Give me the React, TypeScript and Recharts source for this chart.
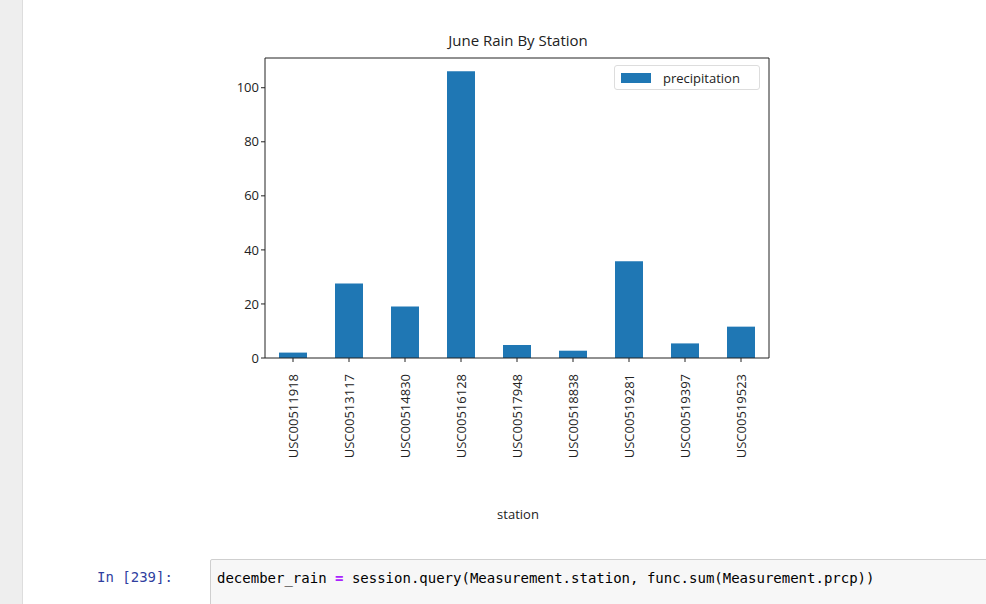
import React from "react";
import { BarChart, Bar, XAxis, YAxis, Legend } from "recharts";

const stations = ["USC00511918","USC00513117","USC00514830","USC00516128","USC00517948","USC00518838","USC00519281","USC00519397","USC00519523"];
const precipitation = [2.0, 27.6, 19.1, 106.1, 4.8, 2.7, 35.8, 5.4, 11.6];
const yTicks = [0, 20, 40, 60, 80, 100];

const data = stations.map((s, i) => ({ station: s, precipitation: precipitation[i] }));
const FONT = "'Open Sans', 'DejaVu Sans', sans-serif";

const XTick = (props: any) => {
  const { x, y, payload } = props;
  return (
    <text x={x} y={y + 10} transform={`rotate(-90 ${x} ${y + 10})`} textAnchor="end" dominantBaseline="central" fontSize={13} fill="#222" fontFamily={FONT}>
      {payload.value}
    </text>
  );
};

const LegendBox = () => (
  <div style={{ width: 146, height: 25, border: "1px solid #ddd", borderRadius: 3, background: "#fff", display: "flex", alignItems: "center", fontFamily: FONT, fontSize: 13, color: "#222", boxSizing: "border-box" }}>
    <div style={{ width: 30, height: 10, background: "#1f77b4", marginLeft: 6, marginRight: 12 }} />
    precipitation
  </div>
);

export default function App() {
  return (
    <div style={{ position: "absolute", left: 0, top: 0, width: 986, height: 604, background: "#fff", overflow: "hidden" }}>
      <div style={{ position: "absolute", left: 0, top: 0, width: 22, height: 604, background: "#eeeeee" }} />
      <div style={{ position: "absolute", left: 22, top: 0, width: 1, height: 604, background: "#ddd" }} />
      <div style={{ position: "absolute", left: 0, top: 30, width: 986, textAlign: "center", paddingLeft: 50, boxSizing: "border-box", fontFamily: FONT, fontSize: 15, color: "#222" }}>
        June Rain By Station
      </div>
      <div style={{ position: "absolute", left: 0, top: 505, width: 986, textAlign: "center", paddingLeft: 50, boxSizing: "border-box", fontFamily: FONT, fontSize: 13, color: "#222" }}>
        station
      </div>
      <div style={{ position: "absolute", left: 97, top: 569, fontFamily: "'DejaVu Sans Mono', monospace", fontSize: 14, color: "#303f9f" }}>In [239]:</div>
      <div style={{ position: "absolute", left: 210, top: 559, width: 790, height: 45, border: "1px solid #cfcfcf", background: "#f7f7f7", borderRadius: 2 }}>
        <div style={{ position: "absolute", left: 6, top: 10, fontFamily: "'DejaVu Sans Mono', monospace", fontSize: 14, color: "#000", whiteSpace: "nowrap" }}>
          december_rain <span style={{ color: "#aa22ff", fontWeight: "bold" }}>=</span> session.query(Measurement.station, func.sum(Measurement.prcp))
        </div>
      </div>
      <BarChart width={986} height={604} data={data} margin={{ left: 205, right: 215, top: 56, bottom: 101 }} barCategoryGap="25%" style={{ position: "absolute", left: 0, top: 0 }}>
        <XAxis dataKey="station" tick={<XTick />} tickLine={{ stroke: "#222" }} tickSize={4} axisLine={{ stroke: "#222" }} interval={0} height={120} />
        <YAxis domain={[0, 111]} ticks={yTicks} width={60} tick={{ fontSize: 13, fill: "#222", fontFamily: FONT }} tickLine={{ stroke: "#222" }} tickSize={4} axisLine={{ stroke: "#222" }} />
        <XAxis xAxisId="top" orientation="top" dataKey="station" tick={false} tickLine={false} axisLine={{ stroke: "#222" }} height={2} />
        <YAxis yAxisId="right" orientation="right" tick={false} tickLine={false} axisLine={{ stroke: "#222" }} width={2} />
        <Legend content={<LegendBox />} wrapperStyle={{ position: "absolute", left: 614, top: 65, width: 146 }} />
        <Bar dataKey="precipitation" fill="#1f77b4" isAnimationActive={false} />
      </BarChart>
    </div>
  );
}
